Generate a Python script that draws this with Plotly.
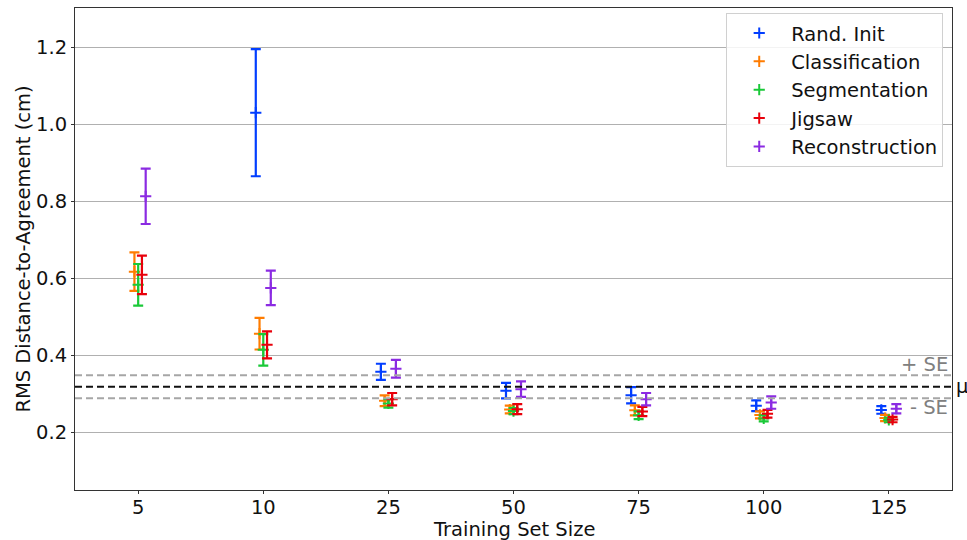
import plotly.graph_objects as go

# Training set sizes (categorical x positions)
sizes = ["5", "10", "25", "50", "75", "100", "125"]

series_names = ["Rand. Init", "Classification", "Segmentation", "Jigsaw", "Reconstruction"]
series_colors = ["#023eff", "#ff7c00", "#1ac938", "#e8000b", "#8b2be2"]

# Mean RMS distance-to-agreement (cm) per training set size
rand_init_mean = [None, 1.030, 0.357, 0.308, 0.296, 0.269, 0.258]
classification_mean = [0.617, 0.456, 0.282, 0.259, 0.257, 0.245, 0.237]
segmentation_mean = [0.583, 0.414, 0.275, 0.255, 0.244, 0.236, 0.232]
jigsaw_mean = [0.609, 0.427, 0.286, 0.260, 0.254, 0.248, 0.233]
reconstruction_mean = [0.813, 0.575, 0.365, 0.312, 0.286, 0.277, 0.261]

# Standard errors
rand_init_se = [None, 0.165, 0.021, 0.020, 0.021, 0.014, 0.010]
classification_se = [0.050, 0.041, 0.014, 0.010, 0.013, 0.009, 0.008]
segmentation_se = [0.054, 0.041, 0.011, 0.008, 0.010, 0.008, 0.006]
jigsaw_se = [0.050, 0.035, 0.016, 0.013, 0.012, 0.010, 0.007]
reconstruction_se = [0.072, 0.045, 0.023, 0.020, 0.016, 0.016, 0.012]

means = [rand_init_mean, classification_mean, segmentation_mean, jigsaw_mean, reconstruction_mean]
errors = [rand_init_se, classification_se, segmentation_se, jigsaw_se, reconstruction_se]

# Overall mean and standard error reference lines
mu = 0.318
se = 0.030

offsets = [-0.06, -0.03, 0.0, 0.03, 0.06]

FONT = "DejaVu Sans"
FS = 19.5
fig = go.Figure()

for name, color, m, e, off in zip(series_names, series_colors, means, errors, offsets):
    xs = [i + off for i in range(len(sizes))]
    fig.add_trace(go.Scatter(
        x=xs, y=m, name=name, mode="markers",
        marker=dict(symbol="cross-thin-open", size=8, color=color,
                    line=dict(color=color, width=2)),
        error_y=dict(type="data", array=e, visible=True, color=color,
                     thickness=2.2, width=5),
    ))

dash_style = "7px,4px"
fig.add_shape(type="line", xref="paper", x0=0, x1=1, yref="y", y0=mu + se, y1=mu + se,
              line=dict(color="#a6a6a6", width=2, dash=dash_style), layer="above")
fig.add_shape(type="line", xref="paper", x0=0, x1=1, yref="y", y0=mu, y1=mu,
              line=dict(color="#111111", width=2, dash=dash_style), layer="above")
fig.add_shape(type="line", xref="paper", x0=0, x1=1, yref="y", y0=mu - se, y1=mu - se,
              line=dict(color="#a6a6a6", width=2, dash=dash_style), layer="above")

fig.add_annotation(x=0.998, xref="paper", y=mu + se, yref="y", text="+ SE",
                   showarrow=False, xanchor="right", yanchor="bottom", yshift=-3,
                   font=dict(family=FONT, size=FS, color="#808080"))
fig.add_annotation(x=0.998, xref="paper", y=mu - se, yref="y", text="- SE",
                   showarrow=False, xanchor="right", yanchor="top", yshift=4,
                   font=dict(family=FONT, size=FS, color="#808080"))
fig.add_annotation(x=1.002, xref="paper", y=mu, yref="y", text="μ",
                   showarrow=False, xanchor="left", yanchor="middle",
                   font=dict(family=FONT, size=FS, color="#111111"))

# x-axis title drawn as a text block beneath the tick labels
fig.add_annotation(x=0.5, xref="paper", y=-0.081, yref="paper", text="Training Set Size",
                   showarrow=False, xanchor="center", yanchor="middle",
                   font=dict(family=FONT, size=FS, color="#111111"))

axis_common = dict(showline=True, linecolor="#333333", linewidth=1, mirror=True,
                   ticks="outside", ticklen=3, tickcolor="#333333",
                   tickfont=dict(family=FONT, size=FS, color="#111111"),
                   zeroline=False, automargin=False)

fig.update_layout(
    width=967, height=540,
    margin=dict(l=75, r=15, t=8, b=50),
    paper_bgcolor="white", plot_bgcolor="white",
    font=dict(family=FONT, color="#111111"),
    xaxis=dict(range=[-0.505, 6.505], tickmode="array",
               tickvals=list(range(len(sizes))), ticktext=sizes,
               showgrid=False, ticklabelstandoff=-3,
               **axis_common),
    yaxis=dict(range=[0.05, 1.302], tickmode="array",
               tickvals=[0.2, 0.4, 0.6, 0.8, 1.0, 1.2],
               ticktext=["0.2", "0.4", "0.6", "0.8", "1.0", "1.2"],
               showgrid=True, gridcolor="#b0b0b0", gridwidth=1,
               title=dict(text="RMS Distance-to-Agreement (cm)", font=dict(family=FONT, size=FS), standoff=0),
               **axis_common),
    legend=dict(x=0.99, xanchor="right", y=0.99, yanchor="top",
                bgcolor="rgba(255,255,255,0.85)", bordercolor="#d0d0d0", borderwidth=1,
                font=dict(family=FONT, size=FS, color="#111111"),
                itemwidth=54),
    showlegend=True,
)

fig.write_html("out.html")
